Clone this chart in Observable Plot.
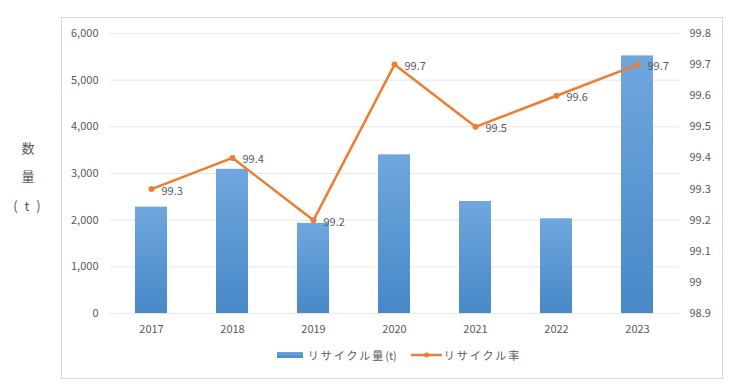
<!DOCTYPE html>
<html><head><meta charset="utf-8">
<script src="https://cdn.jsdelivr.net/npm/d3@7"></script>
<script src="https://cdn.jsdelivr.net/npm/@observablehq/plot@0.6"></script>
<style>
body{margin:0;background:#fff;font-family:"Noto Sans CJK JP","Noto Sans",sans-serif;}
#wrap{position:relative;width:734px;height:386px;overflow:hidden}
#frame{position:absolute;left:61px;top:17px;width:662px;height:362px;border:1px solid #d9d9d9;box-sizing:border-box}
#chart{position:absolute;left:0;top:0}
.ylab{position:absolute;color:#595959;font-size:13px;width:40px;text-align:center;left:8px;line-height:16px}
#legend{position:absolute;top:347px;left:114px;width:570px;display:flex;justify-content:center;align-items:center;font-size:11px;color:#595959;letter-spacing:2px}
#legend .item{display:flex;align-items:center}
</style>
</head><body>
<div id="wrap">
  <div id="frame"></div>
  <div id="chart"></div>
  <div class="ylab" style="top:140px">数</div>
  <div class="ylab" style="top:168px">量</div>
  <div class="ylab" style="top:198px;letter-spacing:2px">( t )</div>
  <div id="legend">
    <div class="item"><svg width="26" height="8"><defs><linearGradient id="lg" x1="0" y1="0" x2="0" y2="1"><stop offset="0" stop-color="#6fa7dd"/><stop offset="1" stop-color="#4788c8"/></linearGradient></defs><rect x="0" y="1" width="26" height="6" fill="url(#lg)"/></svg><span style="margin-left:5px">リサイクル量<span style="letter-spacing:0">(t)</span></span></div>
    <div class="item" style="margin-left:14px"><svg width="31" height="8"><line x1="0" y1="4" x2="31" y2="4" stroke="#ED7D31" stroke-width="2.5"/><circle cx="15.5" cy="4" r="2.5" fill="#ED7D31"/></svg><span style="margin-left:2px">リサイクル率</span></div>
  </div>
</div>
<script>
const years = ["2017","2018","2019","2020","2021","2022","2023"];
const amounts = [2280, 3090, 1930, 3400, 2400, 2030, 5520];
const rates = [99.3, 99.4, 99.2, 99.7, 99.5, 99.6, 99.7];
const leftTicks = [0, 1000, 2000, 3000, 4000, 5000, 6000];
const rateTicks = [98.9, 99.0, 99.1, 99.2, 99.3, 99.4, 99.5, 99.6, 99.7, 99.8];

const rMin = 98.9, rMax = 99.8, yMax = 6000;
const toY = r => (r - rMin) / (rMax - rMin) * yMax;
const fromY = v => +(rMin + v / yMax * (rMax - rMin)).toFixed(1);

const barData = years.map((y, i) => ({year: y, amount: amounts[i]}));
const rateData = years.map((y, i) => ({year: y, rate: rates[i], yv: toY(rates[i])}));

const chart = Plot.plot({
  width: 734,
  height: 386,
  marginLeft: 110,
  marginRight: 55,
  marginTop: 33,
  marginBottom: 73,
  style: {fontFamily: '"Noto Sans CJK JP","Noto Sans",sans-serif', fontSize: "11px", color: "#595959", background: "transparent"},
  x: {domain: years, paddingInner: 0.6, paddingOuter: 0.3, label: null},
  y: {domain: [0, yMax], label: null},
  marks: [
    Plot.ruleY(leftTicks, {stroke: "#e6e6e6", strokeWidth: 1}),
    Plot.barY(barData, {x: "year", y: "amount", fill: "url(#barGrad)"}),
    Plot.line(rateData, {x: "year", y: "yv", stroke: "#ED7D31", strokeWidth: 2.5}),
    Plot.dot(rateData, {x: "year", y: "yv", r: 3, fill: "#ED7D31"}),
    Plot.text(rateData, {x: "year", y: "yv", text: d => String(d.rate), textAnchor: "start", dx: 10, dy: 2, fill: "#595959", fontSize: 11}),
    Plot.axisX({tickSize: 0, tickPadding: 12, label: null}),
    Plot.axisY({ticks: leftTicks, tickFormat: d3.format(","), tickSize: 0, tickPadding: 12, label: null}),
    Plot.axisY({anchor: "right", ticks: rateTicks.map(toY), tickFormat: v => String(fromY(v)), tickSize: 0, tickPadding: 10, label: null})
  ]
});

const ns = "http://www.w3.org/2000/svg";
const defs = document.createElementNS(ns, "defs");
defs.innerHTML = '<linearGradient id="barGrad" x1="0" y1="0" x2="0" y2="1"><stop offset="0" stop-color="#6fa7dd"/><stop offset="1" stop-color="#4788c8"/></linearGradient>';
chart.insertBefore(defs, chart.firstChild);
document.getElementById("chart").appendChild(chart);
</script>
</body></html>
